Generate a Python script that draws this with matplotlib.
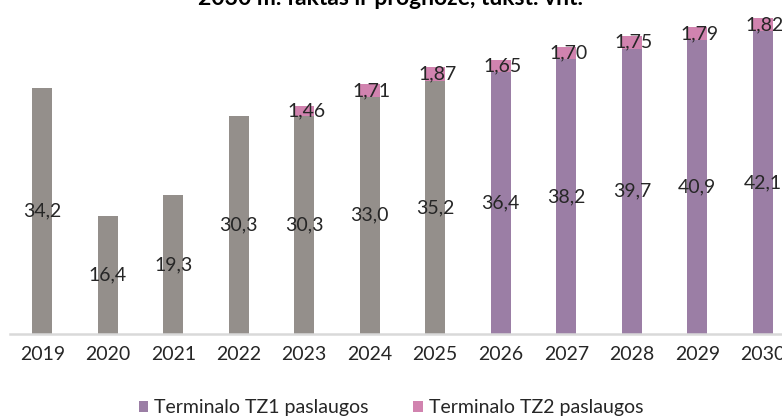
import matplotlib
matplotlib.use("Agg")
import matplotlib.pyplot as plt
from matplotlib.patches import Patch

years = ["2019", "2020", "2021", "2022", "2023", "2024", "2025",
         "2026", "2027", "2028", "2029", "2030"]
tz1 = [34.2, 16.4, 19.3, 30.3, 30.3, 33.0, 35.2, 36.4, 38.2, 39.7, 40.9, 42.1]
tz2 = [0, 0, 0, 0, 1.46, 1.71, 1.87, 1.65, 1.70, 1.75, 1.79, 1.82]
forecast_from = "2026"
title = "2030 m. faktas ir prognozė, tūkst. vnt."
series_names = ["Terminalo TZ1 paslaugos", "Terminalo TZ2 paslaugos"]

GRAY = "#948F8B"
PURPLE = "#9B7EA5"
PINK = "#D183AF"
TXT = "#262626"

plt.rcParams["font.family"] = ["Lato", "DejaVu Sans"]

W, H = 782, 417
fig = plt.figure(figsize=(W / 100, H / 100), dpi=100)
ax_left, ax_bottom = 9.5, 83
ax_w = 12 * 65.5
ax_h = 45 * 7.19
ax = fig.add_axes([ax_left / W, ax_bottom / H, ax_w / W, ax_h / H])

x = list(range(len(years)))
fidx = years.index(forecast_from)
c1 = [GRAY if i < fidx else PURPLE for i in x]
ax.bar(x, tz1, width=0.305, color=c1, zorder=2)
ax.bar(x, tz2, width=0.305, bottom=tz1, color=PINK, zorder=2)

for i in x:
    ax.text(i, tz1[i] / 2, f"{tz1[i]:.1f}".replace(".", ","), ha="center",
            va="center", fontsize=14, color=TXT, zorder=3)
    if tz2[i] > 0:
        ax.text(i + 0.03, tz1[i] + tz2[i] / 2, f"{tz2[i]:.2f}".replace(".", ","),
                ha="center", va="center", fontsize=14, color=TXT, zorder=3)

ax.set_xlim(-0.5, len(years) - 0.5)
ax.set_ylim(0, 45)
ax.set_xticks(x)
ax.set_xticklabels(years, fontsize=14, color=TXT)
ax.tick_params(axis="x", length=0, pad=9)
ax.set_yticks([])
for s in ["top", "right", "left"]:
    ax.spines[s].set_visible(False)
ax.spines["bottom"].set_color("#D9D9D9")
ax.spines["bottom"].set_linewidth(1.8)
ax.patch.set_alpha(0)

fig.text(0.5, 1 - 5 / H, title, ha="center", va="baseline",
         fontsize=16.5, fontweight="bold", color="black")

handles = [Patch(facecolor=PURPLE, edgecolor="none"),
           Patch(facecolor=PINK, edgecolor="none")]
fig.legend(handles, series_names, loc="center", bbox_to_anchor=(0.5, 1 - 408 / H),
           ncol=2, frameon=False, fontsize=14, handlelength=0.5,
           handleheight=0.5, handletextpad=0.3, columnspacing=2.3,
           labelcolor=TXT)

fig.savefig("out.png", dpi=100)
